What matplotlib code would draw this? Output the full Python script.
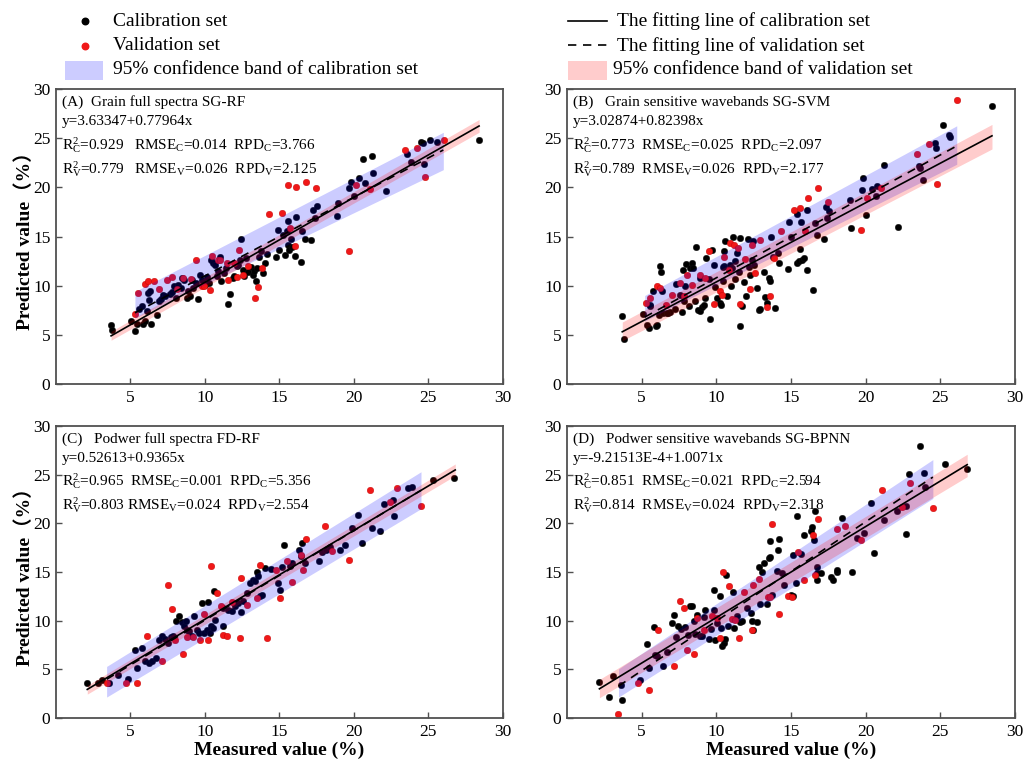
import numpy as np
import matplotlib
matplotlib.use("Agg")
import matplotlib.pyplot as plt
from matplotlib.patches import Rectangle
from matplotlib.lines import Line2D

plt.rcParams['font.family'] = ['Liberation Serif', 'Noto Sans CJK SC']
plt.rcParams['mathtext.fontset'] = 'custom'
plt.rcParams['mathtext.rm'] = 'Liberation Serif'
plt.rcParams['mathtext.it'] = 'Liberation Serif:italic'

# ---- data: (measured, predicted) ----
A_cal = np.array([
    [3.67, 6.02], [3.76, 5.51], [5.01, 6.36], [5.30, 5.41], [5.46, 6.09], [5.59, 7.65], [5.75, 7.89],
    [5.82, 6.09], [5.97, 6.36], [6.09, 7.45], [6.2, 9.25], [6.26, 8.57], [6.31, 9.42], [6.38, 6.09],
    [6.8, 6.97], [6.91, 8.4], [7.05, 8.64], [7.2, 9.08], [7.3, 8.9], [7.65, 9.15], [7.79, 9.35],
    [7.92, 9.97], [8.05, 8.74], [8.2, 10.1], [8.37, 9.76], [8.43, 10.78], [8.6, 10.54], [8.77, 8.74],
    [8.88, 9.42], [9.0, 9.0], [9.1, 10.6], [9.2, 9.76], [9.37, 10.27], [9.5, 8.64], [9.66, 11.1],
    [9.78, 10.6], [9.89, 10.44], [10.02, 10.1], [10.16, 10.85], [10.29, 10.27], [10.38, 12.65],
    [10.51, 12.3], [10.67, 12.14], [10.78, 10.95], [10.9, 11.46], [11.0, 12.89], [11.1, 10.44],
    [11.28, 11.3], [11.4, 11.8], [11.57, 8.13], [11.68, 9.15], [11.86, 10.78], [11.97, 10.95],
    [12.13, 11.97], [12.24, 12.14], [12.35, 12.65], [12.42, 14.7], [12.53, 11.63], [12.64, 10.95],
    [12.75, 12.82], [12.91, 11.36], [13.06, 11.87], [13.2, 11.05], [13.29, 11.46], [13.42, 10.51],
    [13.51, 11.8], [13.65, 12.89], [13.74, 13.5], [13.87, 11.3], [14.03, 12.3], [14.14, 13.23],
    [14.74, 12.89], [14.88, 15.71], [14.97, 13.6], [15.26, 15.2], [15.37, 13.16], [15.48, 15.54],
    [15.55, 14.1], [15.59, 16.56], [15.66, 13.67], [15.75, 14.7], [15.82, 13.91], [16.06, 12.99],
    [16.09, 16.97], [16.42, 12.38], [16.53, 15.54], [16.71, 14.7], [17.11, 14.6], [17.27, 17.65],
    [17.4, 16.9], [17.49, 18.1], [18.88, 17.07], [18.95, 18.44], [19.69, 19.97], [19.8, 20.58],
    [20.0, 19.1], [20.36, 20.92], [20.63, 22.86], [20.74, 20.48], [21.19, 23.2], [21.25, 21.5],
    [22.15, 19.63], [23.58, 23.37], [23.83, 22.62], [24.5, 24.66], [24.61, 24.56], [24.7, 22.35],
    [25.1, 24.8], [25.6, 24.66], [28.4, 24.83]])
A_val = np.array([
    [5.3, 7.11], [5.52, 9.25], [5.97, 10.17], [6.15, 10.51], [6.58, 10.44], [6.94, 9.69], [7.47, 10.6],
    [7.79, 10.88], [8.14, 9.69], [8.55, 10.78], [9.06, 10.71], [9.37, 12.65], [9.78, 9.93], [9.93, 10.0],
    [10.34, 9.59], [10.49, 12.99], [10.9, 12.65], [11.0, 12.65], [11.45, 12.3], [11.57, 10.61],
    [11.97, 12.3], [12.3, 13.6], [12.17, 10.85], [12.57, 11.05], [12.9, 11.97], [13.36, 8.74],
    [13.58, 9.83], [13.8, 11.8], [14.3, 17.24], [15.15, 17.41], [15.55, 20.24], [15.7, 15.88],
    [16.04, 14.0], [16.1, 20.07], [16.78, 20.54], [17.45, 19.93], [19.66, 13.5], [20.13, 20.24],
    [21.07, 19.8], [23.42, 23.78], [24.2, 23.98], [24.76, 21.05], [26.06, 24.8]])

B_cal = np.array([
    [3.71, 6.94], [3.83, 4.59], [5.06, 7.14], [5.39, 6.02], [5.46, 5.68], [5.57, 8.06], [5.79, 9.49],
    [5.97, 5.85], [6.02, 5.95], [6.13, 7.04], [6.2, 11.97], [6.29, 11.39], [6.35, 9.42], [6.42, 7.21],
    [6.73, 7.21], [6.87, 7.28], [7.2, 7.65], [7.32, 10.17], [7.54, 9.01], [7.7, 7.28], [7.76, 11.63],
    [7.85, 8.4], [7.99, 12.21], [8.14, 7.89], [8.21, 11.8], [8.37, 12.28], [8.43, 11.8], [8.55, 8.47],
    [8.66, 13.91], [8.75, 7.55], [8.93, 7.38], [9.04, 7.79], [9.15, 8.06], [9.26, 8.74], [9.31, 12.82],
    [9.55, 6.6], [9.71, 13.67], [9.82, 12.14], [9.93, 9.83], [10.04, 8.74], [10.22, 8.23], [10.31, 8.06],
    [10.43, 10.44], [10.49, 13.5], [10.54, 11.97], [10.58, 14.52], [10.72, 8.91], [10.98, 9.93],
    [11.05, 11.8], [11.12, 14.97], [11.25, 10.68], [11.39, 13.33], [11.5, 11.39], [11.61, 14.86],
    [11.61, 5.85], [11.72, 7.89], [11.83, 10.34], [12.01, 8.98], [12.12, 14.76], [12.17, 11.87],
    [12.28, 11.12], [12.46, 14.52], [12.55, 12.14], [12.73, 9.76], [12.84, 7.55], [12.95, 7.65],
    [13.18, 11.39], [13.24, 8.81], [13.36, 8.23], [13.51, 10.78], [13.62, 10.44], [13.67, 14.97],
    [13.8, 12.89], [13.96, 7.72], [14.14, 13.33], [14.18, 12.31], [14.81, 11.73], [14.88, 16.5],
    [14.97, 14.97], [15.37, 17.24], [15.41, 12.31], [15.53, 12.48], [15.59, 13.78], [15.68, 16.46],
    [15.77, 12.65], [15.86, 12.82], [16.04, 17.65], [16.09, 11.6], [16.49, 9.59], [16.71, 15.2],
    [17.2, 14.76], [17.36, 17.99], [17.56, 17.59], [18.99, 15.82], [19.84, 20.99], [20.0, 17.14],
    [21.23, 22.28], [22.19, 15.95], [23.87, 20.71], [25.15, 26.36], [28.46, 28.3],
    [5.53, 7.96], [6.69, 7.18], [7.92, 9.93], [8.88, 10.78], [9.49, 10.68], [10.43, 11.87],
    [10.94, 12.14], [11.28, 12.48], [12.39, 12.65], [16.64, 16.39], [17.43, 16.84], [18.95, 18.67],
    [19.73, 19.69], [20.45, 19.86], [20.74, 20.14], [20.67, 19.12], [23.58, 22.18], [23.62, 21.94],
    [24.63, 24.56], [24.7, 23.98], [25.59, 25.34], [25.64, 25.14]])
B_val = np.array([
    [5.3, 8.23], [5.57, 8.74], [6.02, 10.0], [6.2, 9.76], [6.64, 8.06], [7.02, 9.08], [7.58, 10.27],
    [7.81, 8.98], [8.03, 11.12], [8.37, 10.1], [8.93, 11.12], [9.26, 10.78], [9.49, 13.57], [9.87, 8.16],
    [10.22, 9.49], [10.38, 9.08], [10.54, 12.89], [10.83, 11.63], [10.94, 14.35], [11.16, 14.12],
    [11.43, 13.84], [11.61, 8.13], [11.9, 12.76], [12.24, 9.69], [12.42, 14.18], [12.62, 11.29],
    [12.91, 14.69], [13.4, 7.79], [13.58, 8.98], [13.85, 12.82], [14.3, 15.54], [15.19, 17.65],
    [15.57, 17.86], [15.97, 15.54], [16.13, 18.88], [16.82, 19.9], [17.47, 18.54], [19.66, 15.71],
    [20.11, 18.88], [21.05, 19.9], [23.42, 23.44], [24.21, 24.39], [24.81, 20.37], [26.1, 28.9]])

C_cal = np.array([
    [2.1, 3.55], [2.84, 3.62], [3.06, 3.86], [3.58, 3.55], [4.14, 4.37], [4.85, 3.96], [5.3, 7.03],
    [5.41, 5.15], [5.79, 7.2], [5.97, 5.84], [6.26, 5.67], [6.42, 5.9], [6.71, 6.18], [6.94, 8.05],
    [7.14, 8.46], [7.32, 8.12], [7.54, 7.71], [7.7, 8.33], [7.83, 8.4], [8.05, 9.93], [8.28, 10.51],
    [8.43, 9.83], [8.59, 9.42], [8.72, 9.93], [8.77, 9.08], [8.95, 8.98], [9.1, 8.4], [9.26, 10.44],
    [9.44, 9.08], [9.62, 8.74], [9.78, 11.81], [9.93, 8.74], [10.11, 9.08], [10.22, 11.88],
    [10.34, 8.74], [10.4, 9.49], [10.51, 9.25], [10.6, 13.0], [10.67, 10.1], [11.19, 9.42],
    [11.23, 11.3], [11.57, 11.13], [11.79, 10.96], [12.01, 11.47], [12.24, 11.81], [12.39, 10.92],
    [12.53, 11.98], [12.8, 12.83], [13.02, 13.86], [13.2, 14.2], [13.36, 14.03], [13.47, 14.95],
    [13.58, 14.54], [13.69, 12.49], [13.8, 12.66], [14.03, 15.39], [14.41, 15.32], [14.92, 13.86],
    [15.03, 13.17], [15.15, 15.56], [15.3, 17.78], [15.7, 15.63], [15.82, 15.97], [16.33, 17.27],
    [16.42, 16.66], [16.53, 18.02], [16.71, 15.97], [17.67, 16.18], [17.83, 17.1], [18.12, 17.27],
    [18.39, 17.61], [19.06, 17.27], [19.4, 17.78], [19.84, 19.49], [20.29, 20.85], [20.51, 17.95],
    [21.19, 19.49], [21.74, 19.25], [22.04, 21.95], [22.6, 22.39], [22.68, 20.78], [23.65, 23.58],
    [23.87, 23.75], [25.32, 24.44], [26.71, 24.61]])
C_val = np.array([
    [3.4, 3.62], [4.7, 3.55], [5.46, 3.55], [6.09, 8.46], [7.14, 5.9], [7.54, 13.65], [7.76, 11.19],
    [7.99, 7.99], [8.5, 6.62], [8.77, 8.33], [9.17, 8.33], [9.66, 8.05], [9.93, 10.72], [10.22, 8.05],
    [10.38, 15.63], [10.78, 12.83], [11.05, 11.54], [11.19, 8.53], [11.5, 8.4], [11.79, 11.88],
    [12.35, 8.19], [12.39, 14.37], [12.84, 11.64], [13.51, 12.29], [13.69, 15.73], [14.14, 8.23],
    [14.77, 15.22], [15.03, 12.29], [15.48, 16.18], [15.86, 13.96], [16.42, 16.76], [16.6, 15.22],
    [16.78, 18.36], [18.05, 19.76], [18.5, 17.2], [19.69, 16.25], [21.07, 23.41], [22.42, 22.22],
    [22.91, 23.58], [24.5, 21.77]])

D_cal = np.array([
    [2.17, 3.69], [2.82, 2.18], [3.06, 4.3], [3.6, 3.34], [3.67, 1.84], [4.9, 3.86], [5.35, 7.65],
    [5.46, 5.15], [5.84, 9.35], [5.91, 6.52], [6.06, 6.35], [6.4, 5.32], [6.69, 6.83], [7.02, 9.76],
    [7.18, 10.55], [7.32, 8.33], [7.4, 9.42], [7.63, 9.15], [7.92, 9.32], [8.08, 8.57], [8.21, 11.47],
    [8.37, 11.47], [8.48, 10.0], [8.55, 8.63], [8.7, 10.61], [8.88, 8.46], [9.04, 8.46], [9.15, 10.34],
    [9.26, 11.13], [9.49, 8.12], [9.64, 9.15], [9.82, 11.06], [9.82, 13.11], [9.93, 7.99],
    [10.04, 9.76], [10.22, 12.56], [10.31, 9.22], [10.38, 7.37], [10.49, 7.71], [10.6, 8.12],
    [10.67, 14.71], [10.76, 9.42], [11.12, 12.9], [11.16, 9.22], [11.39, 10.44], [11.61, 9.83],
    [11.72, 9.93], [12.06, 11.3], [12.33, 10.78], [12.39, 9.93], [12.46, 9.08], [12.73, 9.83],
    [12.84, 15.49], [12.95, 11.74], [13.06, 14.98], [13.22, 15.97], [13.4, 11.71], [13.51, 16.42],
    [13.58, 18.23], [13.62, 16.52], [13.76, 12.66], [14.07, 15.15], [14.12, 17.27], [14.23, 18.36],
    [14.41, 14.88], [14.52, 13.69], [15.01, 12.66], [15.12, 12.49], [15.15, 16.76], [15.32, 13.86],
    [15.37, 20.75], [15.64, 16.86], [15.86, 18.81], [16.31, 19.22], [16.42, 19.66], [16.53, 18.29],
    [16.58, 21.3], [16.71, 15.56], [16.76, 14.88], [16.76, 14.2], [16.98, 14.88], [17.7, 14.47],
    [17.83, 14.13], [18.05, 14.95], [18.1, 15.22], [18.43, 20.51], [19.1, 15.05], [19.4, 18.46],
    [19.89, 18.98], [20.34, 22.12], [20.56, 17.0], [21.23, 20.34], [22.08, 21.3], [22.68, 18.91],
    [22.68, 21.77], [22.91, 25.12], [23.65, 27.95], [23.91, 25.19], [23.98, 23.75], [25.32, 26.14],
    [26.76, 25.63]])
D_val = np.array([
    [3.4, 0.44], [4.74, 3.62], [5.46, 2.83], [6.09, 9.08], [7.18, 5.32], [7.58, 11.98], [7.81, 11.3],
    [8.03, 6.96], [8.52, 6.62], [8.7, 10.27], [9.15, 9.08], [9.71, 10.51], [10.04, 10.27], [10.27, 8.23],
    [10.43, 14.95], [10.83, 13.58], [11.05, 10.17], [11.28, 10.03], [11.54, 8.19], [11.83, 12.94],
    [12.39, 9.08], [12.44, 13.62], [12.89, 14.27], [13.47, 12.39], [13.62, 12.39], [13.74, 19.9],
    [14.23, 10.72], [14.81, 12.49], [15.08, 12.42], [15.48, 17.1], [15.86, 14.2], [16.49, 18.81],
    [16.64, 14.71], [16.82, 20.41], [18.1, 19.39], [18.59, 19.73], [19.66, 18.29], [21.12, 23.41],
    [22.46, 21.71], [22.95, 24.16], [24.54, 21.54]])

# fitted lines as drawn: [intercept, slope], x-range
A_solid, A_solid_x = [1.70, 0.864], [3.7, 28.4]
A_dash, A_dash_x = [3.0, 0.80], [5.3, 26.0]
B_solid, B_solid_x = [2.33, 0.805], [3.7, 28.46]
B_dash, B_dash_x = [2.47, 0.833], [5.2, 26.1]
C_solid, C_solid_x = [1.02, 0.913], [2.1, 26.8]
C_dash, C_dash_x = [0.85, 0.92], [3.4, 24.5]
D_solid, D_solid_x = [0.97, 0.935], [2.17, 26.8]
D_dash, D_dash_x = [-0.24, 1.02], [3.45, 24.5]

# confidence bands as drawn: x, lower, upper
A_blue = ([5.3, 26.0], [6.7, 21.8], [9.4, 25.6])
A_pink = ([3.7, 28.4], [4.45, 25.6], [5.35, 26.9])
B_blue = ([5.2, 26.1], [6.4, 22.35], [9.0, 26.26])
B_pink = ([3.7, 28.46], [4.4, 23.9], [6.3, 26.4])
C_blue = ([3.4, 24.5], [2.15, 21.5], [5.3, 25.3])
C_pink = ([2.1, 26.8], [2.45, 24.9], [3.35, 26.1])
D_blue = ([3.45, 24.5], [2.15, 22.56], [5.05, 26.55])
D_pink = ([2.17, 26.8], [2.08, 24.8], [3.96, 27.1])

titles = ["(A)  Grain full spectra SG-RF",
          "(B)   Grain sensitive wavebands SG-SVM",
          "(C)   Podwer full spectra FD-RF",
          "(D)   Podwer sensitive wavebands SG-BPNN"]
equations = ["y=3.63347+0.77964x", "y=3.02874+0.82398x",
             "y=0.52613+0.9365x", "y=-9.21513E-4+1.0071x"]
stats_c = [("0.929", "0.014", "3.766", "   ", "  "),
           ("0.773", "0.025", "2.097", "  ", "  "),
           ("0.965", "0.001", "5.356", "  ", "  "),
           ("0.851", "0.021", "2.594", "  ", "  ")]
stats_v = [("0.779", "0.026", "2.125", "   ", "  "),
           ("0.789", "0.026", "2.177", "  ", "  "),
           ("0.803", "0.024", "2.554", " ", "  "),
           ("0.814", "0.024", "2.318", "  ", "  ")]

panels = [(A_cal, A_val, A_solid, A_solid_x, A_dash, A_dash_x, A_blue, A_pink),
          (B_cal, B_val, B_solid, B_solid_x, B_dash, B_dash_x, B_blue, B_pink),
          (C_cal, C_val, C_solid, C_solid_x, C_dash, C_dash_x, C_blue, C_pink),
          (D_cal, D_val, D_solid, D_solid_x, D_dash, D_dash_x, D_blue, D_pink)]

rects = [[0.0545, 0.5, 0.4352, 0.3841], [0.5521, 0.5, 0.4362, 0.3841],
         [0.0545, 0.0651, 0.4352, 0.3802], [0.5521, 0.0651, 0.4362, 0.3802]]

fig = plt.figure(figsize=(10.27, 7.68), dpi=100)
spine_col = '#505050'

for i, (cal, val, sol, solx, das, dasx, blue, pink) in enumerate(panels):
    ax = fig.add_axes(rects[i])
    ax.scatter(cal[:, 0], cal[:, 1], s=22, color='black', edgecolor='#111111', linewidth=0.3, zorder=2)
    ax.scatter(val[:, 0], val[:, 1], s=22, color='#f01818', edgecolor='#c00000', linewidth=0.3, zorder=2)
    ax.fill_between(blue[0], blue[1], blue[2], color='#0000ff', alpha=0.2, lw=0, zorder=3)
    ax.fill_between(pink[0], pink[1], pink[2], color='#ff0000', alpha=0.2, lw=0, zorder=3)
    xs = np.array(solx)
    ax.plot(xs, sol[0] + sol[1] * xs, color='black', lw=1.2, zorder=4)
    xd = np.array(dasx)
    ax.plot(xd, das[0] + das[1] * xd, color='black', lw=1.2, ls=(0, (5, 4)), zorder=4)

    ax.set_xlim(0, 30)
    ax.set_ylim(0, 30)
    ax.set_xticks(range(5, 31, 5))
    ax.set_yticks(range(0, 31, 5))
    ax.tick_params(direction='in', length=4, width=1, color=spine_col, labelsize=12.5, pad=4)
    for sp in ax.spines.values():
        sp.set_color(spine_col)
        sp.set_linewidth(1.3)

    ax.text(0.013, 0.955, titles[i], transform=ax.transAxes, va='center', fontsize=11)
    ax.text(0.013, 0.89, equations[i], transform=ax.transAxes, va='center', fontsize=11)
    r2, rm, rp, g1, g2 = stats_c[i]
    ax.text(0.013, 0.81, r"$\mathrm{R}^2_\mathrm{C}$=" + r2 + g1 + r"RMSE$_\mathrm{C}$=" + rm + g2
            + r"RPD$_\mathrm{C}$=" + rp, transform=ax.transAxes, va='center', fontsize=11)
    r2, rm, rp, g1, g2 = stats_v[i]
    ax.text(0.013, 0.73, r"$\mathrm{R}^2_\mathrm{V}$=" + r2 + g1 + r"RMSE$_\mathrm{V}$=" + rm + g2
            + r"RPD$_\mathrm{V}$=" + rp, transform=ax.transAxes, va='center', fontsize=11)

    if i in (0, 2):
        ax.set_ylabel("Predicted value（%）", fontsize=14, fontweight='bold')
        ax.yaxis.set_label_coords(-0.05, 0.5)
    if i in (2, 3):
        ax.set_xlabel("Measured value (%)", fontsize=14, fontweight='bold')
        ax.xaxis.set_label_coords(0.5, -0.08)

# legend drawn in pixel coordinates along the top
lg = fig.add_axes([0, 0, 1, 1], zorder=-1)
lg.set_xlim(0, 1027)
lg.set_ylim(768, 0)
lg.axis('off')
lg.scatter([85], [21], s=22, color='black')
lg.scatter([85], [46], s=22, color='#f01818')
lg.add_patch(Rectangle((65, 61), 38, 19, color='#0000ff', alpha=0.2, lw=0))
lg.text(113, 21, "Calibration set", va='center', fontsize=14)
lg.text(113, 46, "Validation set", va='center', fontsize=14)
lg.text(113, 70, "95% confidence band of calibration set", va='center', fontsize=14)
lg.add_line(Line2D([568, 607], [21, 21], color='black', lw=1.2))
lg.add_line(Line2D([568, 607], [45, 45], color='black', lw=1.2, ls=(0, (5, 4))))
lg.add_patch(Rectangle((568, 61), 39, 19, color='#ff0000', alpha=0.2, lw=0))
lg.text(617, 21, "The fitting line of calibration set", va='center', fontsize=14)
lg.text(617, 46, "The fitting line of validation set", va='center', fontsize=14)
lg.text(613, 70, "95% confidence band of validation set", va='center', fontsize=14)

fig.savefig("out.png", dpi=100)
